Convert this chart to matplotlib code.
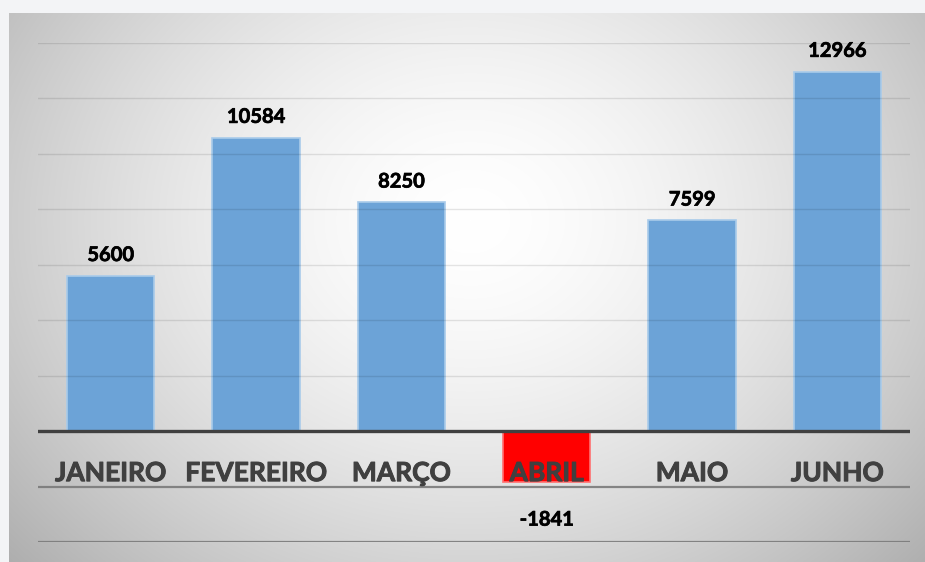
import numpy as np
import matplotlib
matplotlib.use("Agg")
import matplotlib.pyplot as plt
import matplotlib.patheffects as pe

categories = ["JANEIRO", "FEVEREIRO", "MARÇO", "ABRIL", "MAIO", "JUNHO"]
values = [5600, 10584, 8250, -1841, 7599, 12966]
y_min, y_max, y_step = -4000, 14000, 2000

W, H = 925, 562
fig = plt.figure(figsize=(W / 100, H / 100), dpi=100)
fig.patch.set_facecolor("#f3f4f6")

# background panel with radial gradient
bx0, by0 = 9, 13
bg = fig.add_axes([bx0 / W, 0, (W - bx0) / W, (H - by0) / H])
bg.set_axis_off()
xs = np.arange(bx0, W)
ys = np.arange(by0, H)
X, Y = np.meshgrid(xs, ys)
r = np.sqrt(((X - 470) / 520.0) ** 2 + ((Y - 220) / 430.0) ** 2)
v = np.clip(1 - 0.24 * r ** 1.6, 0, 1)
img = np.dstack([v, v, v])
bg.imshow(img, aspect="auto", extent=[0, 1, 0, 1], origin="upper")
bg.set_xlim(0, 1)
bg.set_ylim(0, 1)

# main axes
px_l, px_r, px_t, px_b = 38, 910, 43, 542
ax = fig.add_axes([px_l / W, (H - px_b) / H, (px_r - px_l) / W, (px_b - px_t) / H])
ax.set_facecolor("none")
for s in ax.spines.values():
    s.set_visible(False)
ax.set_xticks([])
ax.set_yticks([])
ax.set_xlim(-0.5, len(categories) - 0.5)
ax.set_ylim(y_min, y_max)

x = np.arange(len(categories))
colors = ["#6ca3d7" if val >= 0 else "#ff0000" for val in values]
edges = ["#a9cbea" if val >= 0 else "#ff7070" for val in values]
ax.bar(x, values, width=0.6, color=colors, edgecolor=edges, linewidth=1.2, zorder=2)

# gridlines
for gy in range(y_min, y_max + 1, y_step):
    if gy == 0:
        continue
    if gy > 0:
        ax.axhline(gy, color="black", alpha=0.1, lw=1.0, zorder=3)
    else:
        ax.axhline(gy, color="#7a7a7a", alpha=0.9, lw=1.6, zorder=3)
ax.axhline(0, color="#404040", lw=2.4, zorder=4)

font = ["Lato", "DejaVu Sans"]
for xi, cat in zip(x, categories):
    ax.text(xi, -1515, cat, ha="center", va="center", fontsize=19, fontweight="bold",
            color="#404040", family=font, zorder=5,
            path_effects=[pe.withStroke(linewidth=0.7, foreground="#404040")])

for xi, val in zip(x, values):
    off = 15 if val >= 0 else -27
    ax.annotate(f"{val}", (xi, val), xytext=(0, off), textcoords="offset points",
                ha="center", va="center", fontsize=14.5, fontweight="bold",
                color="black", family=font, zorder=5,
                path_effects=[pe.withStroke(linewidth=0.5, foreground="black")])

fig.savefig("out.png", dpi=100)
